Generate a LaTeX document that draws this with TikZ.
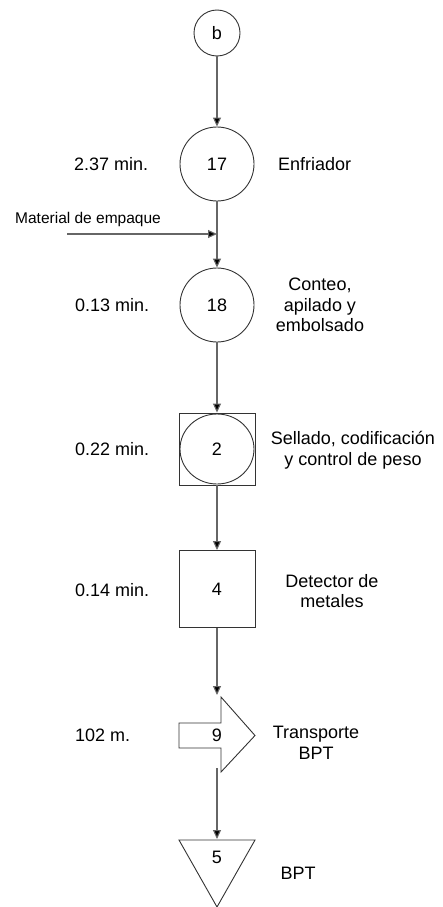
\documentclass[tikz,border=0pt]{standalone}
\usepackage{fontspec}
\setmainfont{Liberation Sans}
\usetikzlibrary{arrows.meta,shapes.geometric}
\begin{document}
\begin{tikzpicture}[x=1pt,y=-1pt,
  shapeline/.style={draw=black!80,line width=0.9pt},
  flow/.style={draw=black!60,line width=1.1pt,-{Triangle[length=9pt,width=8pt,fill=black]}},
  lbl/.style={font=\fontsize{18}{20.5}\selectfont,inner sep=0pt},
  small/.style={font=\fontsize{15.5}{18}\selectfont,inner sep=0pt},
  opcirc/.style={shapeline,circle,inner sep=0pt,font=\fontsize{18}{20}\selectfont}]
\useasboundingbox (0,0) rectangle (443,907);

% operations and inspections
\node[opcirc,minimum size=46pt] (b) at (217,33) {b};
\node[opcirc,minimum size=74pt] (n17) at (217,164) {17};
\node[opcirc,minimum size=74pt] (n18) at (217,305) {18};
\node[shapeline,rectangle,minimum width=76pt,minimum height=72pt,inner sep=0pt] (sq2) at (217,449) {};
\node[shapeline,ellipse,minimum width=74pt,minimum height=70pt,inner sep=0pt,font=\fontsize{18}{20}\selectfont] (e2) at (217,449) {2};
\node[shapeline,rectangle,minimum width=76pt,minimum height=77pt,inner sep=0pt,font=\fontsize{18}{20}\selectfont] (sq4) at (217,589) {4};

% transport arrow
\draw[shapeline] (179,723) -- (221,723) -- (221,697) -- (255,735.5) -- (221,772) -- (221,748) -- (179,748) -- cycle;
\node[lbl] (n9) at (217,735) {9};
\coordinate (t9in) at (217,695);
\coordinate (t9out) at (217,768);

% storage triangle
\draw[shapeline] (179,840) -- (255,840) -- (217,907) -- cycle;
\node[lbl] (n5) at (217,857) {5};
\coordinate (t5in) at (217,839);

% material input
\coordinate (mat) at (67,234);
\coordinate (matin) at (217,234);
\node[small] (matlbl) at (88,219) {Material de empaque};

% connectors
\draw[flow] (b) -- (n17);
\draw[flow] (n17) -- (n18);
\draw[flow] (mat) -- (matin);
\draw[flow] (n18) -- (sq2);
\draw[flow] (sq2) -- (sq4);
\draw[flow] (sq4) -- (t9in);
\draw[flow] (t9out) -- (t5in);

% times and distances
\node[lbl,anchor=west] (d17) at (74,164) {2.37 min.};
\node[lbl,anchor=west] (d18) at (75,305) {0.13 min.};
\node[lbl,anchor=west] (d2) at (75,449) {0.22 min.};
\node[lbl,anchor=west] (d4) at (75,590) {0.14 min.};
\node[lbl,anchor=west] (d9) at (75,735) {102 m.};

% descriptions
\node[lbl,anchor=west] (l17) at (278,164) {Enfriador};
\node[lbl,align=center] (l18) at (320,305) {Conteo,\\apilado y\\embolsado};
\node[lbl,align=center] (l2) at (353,450) {Sellado, codificación\\y control de peso};
\node[lbl,align=center] (l4) at (332,591) {Detector de\\metales};
\node[lbl,align=center] (l9) at (316,743) {Transporte\\BPT};
\node[lbl] (l5) at (298,873) {BPT};
\end{tikzpicture}
\end{document}
